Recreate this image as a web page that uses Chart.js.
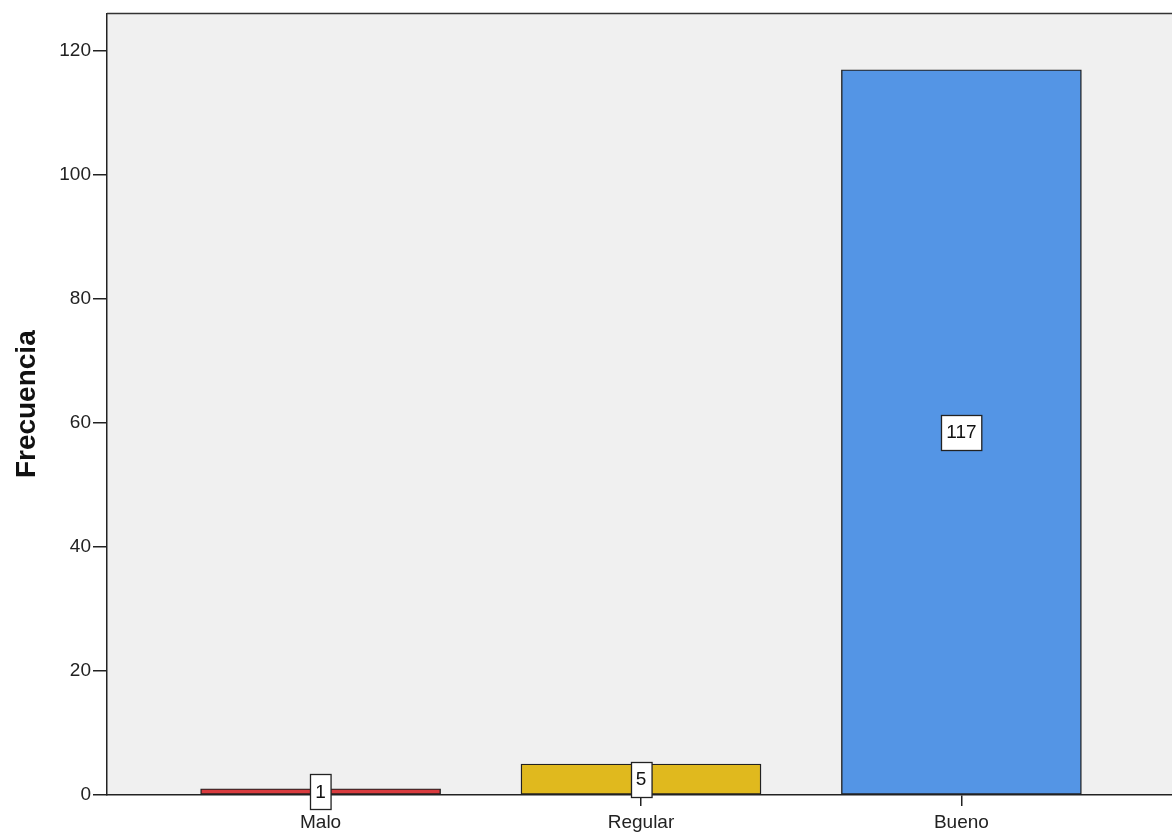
<!DOCTYPE html>
<html>
<head>
<meta charset="utf-8">
<script src="https://cdn.jsdelivr.net/npm/chart.js@4"></script>
<style>
  html, body { margin: 0; padding: 0; background: #ffffff; overflow: hidden; }
  #wrap { position: relative; width: 1180px; height: 834px; }
</style>
</head>
<body>
<div id="wrap"><canvas id="c"></canvas></div>
<script>
const categories = ['Malo', 'Regular', 'Bueno'];
const frequencies = [1, 5, 117];
const barColors = ['#d93b3e', '#e0b91e', '#5495e5'];
const yTickValues = [0, 20, 40, 60, 80, 100, 120];

const FONT = "'Liberation Sans', Arial, sans-serif";

const plotBackground = {
  id: 'plotBackground',
  beforeDraw(chart) {
    const a = chart.chartArea, ctx = chart.ctx;
    ctx.save();
    ctx.fillStyle = '#f0f0f0';
    ctx.fillRect(a.left, a.top, a.right - a.left, a.bottom - a.top);
    ctx.restore();
  },
  afterDraw(chart) {
    const a = chart.chartArea, ctx = chart.ctx;
    ctx.save();
    ctx.strokeStyle = '#333';
    ctx.lineWidth = 1.5;
    ctx.beginPath();
    ctx.moveTo(a.left, a.top);
    ctx.lineTo(a.right, a.top);
    ctx.stroke();
    ctx.restore();
  }
};

const valueBoxes = {
  id: 'valueBoxes',
  afterDatasetsDraw(chart) {
    const ctx = chart.ctx;
    const meta = chart.getDatasetMeta(0);
    ctx.save();
    ctx.font = '19px ' + FONT;
    ctx.textAlign = 'center';
    ctx.textBaseline = 'middle';
    meta.data.forEach((el, i) => {
      const txt = String(frequencies[i]);
      const w = ctx.measureText(txt).width + 10;
      const h = 35;
      const cx = el.x;
      const cy = (el.y + el.base) / 2;
      const x0 = Math.round(cx - w / 2) + 0.5, y0 = Math.round(cy - h / 2) + 0.5;
      ctx.fillStyle = '#ffffff';
      ctx.fillRect(x0, y0, w, h);
      ctx.strokeStyle = '#222';
      ctx.lineWidth = 1.3;
      ctx.strokeRect(x0, y0, w, h);
      ctx.fillStyle = '#111';
      ctx.fillText(txt, cx, cy + 1);
    });
    ctx.restore();
  }
};

new Chart(document.getElementById('c'), {
  type: 'bar',
  data: {
    datasets: [{
      data: categories.map((c, i) => ({ x: i + 1, y: frequencies[i] })),
      backgroundColor: barColors,
      borderColor: '#222222',
      borderWidth: 1.4,
      borderSkipped: false,
      barThickness: 240
    }]
  },
  options: {
    responsive: true,
    maintainAspectRatio: false,
    devicePixelRatio: 1,
    animation: false,
    layout: { padding: { top: 12, right: 5, left: 0, bottom: 0 } },
    plugins: { legend: { display: false }, tooltip: { enabled: false } },
    scales: {
      x: {
        type: 'linear',
        offset: false,
        min: 1 / 3,
        max: 11 / 3,
        afterBuildTicks(scale) {
          scale.ticks = categories.map((c, i) => ({ value: i + 1 }));
        },
        afterFit(scale) { scale.height = 39; },
        ticks: {
          autoSkip: false,
          maxRotation: 0,
          padding: 5,
          color: '#222',
          font: { family: FONT, size: 19 },
          callback: (v) => categories[Math.round(v) - 1] || ''
        },
        grid: { offset: false, drawOnChartArea: false, drawTicks: true, tickLength: 11, color: '#222', lineWidth: 1.5 },
        border: { display: true, color: '#222', width: 1.5 }
      },
      y: {
        type: 'linear',
        min: 0,
        max: 126.1,
        afterBuildTicks(scale) {
          scale.ticks = yTickValues.map(v => ({ value: v }));
        },
        afterFit(scale) { scale.width = 107; },
        ticks: {
          padding: 2,
          color: '#222',
          font: { family: FONT, size: 19 }
        },
        grid: { drawOnChartArea: false, drawTicks: true, tickLength: 14, color: '#222', lineWidth: 1.5 },
        border: { display: true, color: '#222', width: 1.5 },
        title: {
          display: true,
          text: 'Frecuencia',
          color: '#111',
          font: { family: FONT, size: 28, weight: 'bold' },
          padding: { top: 10, bottom: 0 }
        }
      }
    }
  },
  plugins: [plotBackground, valueBoxes]
});
</script>
</body>
</html>
